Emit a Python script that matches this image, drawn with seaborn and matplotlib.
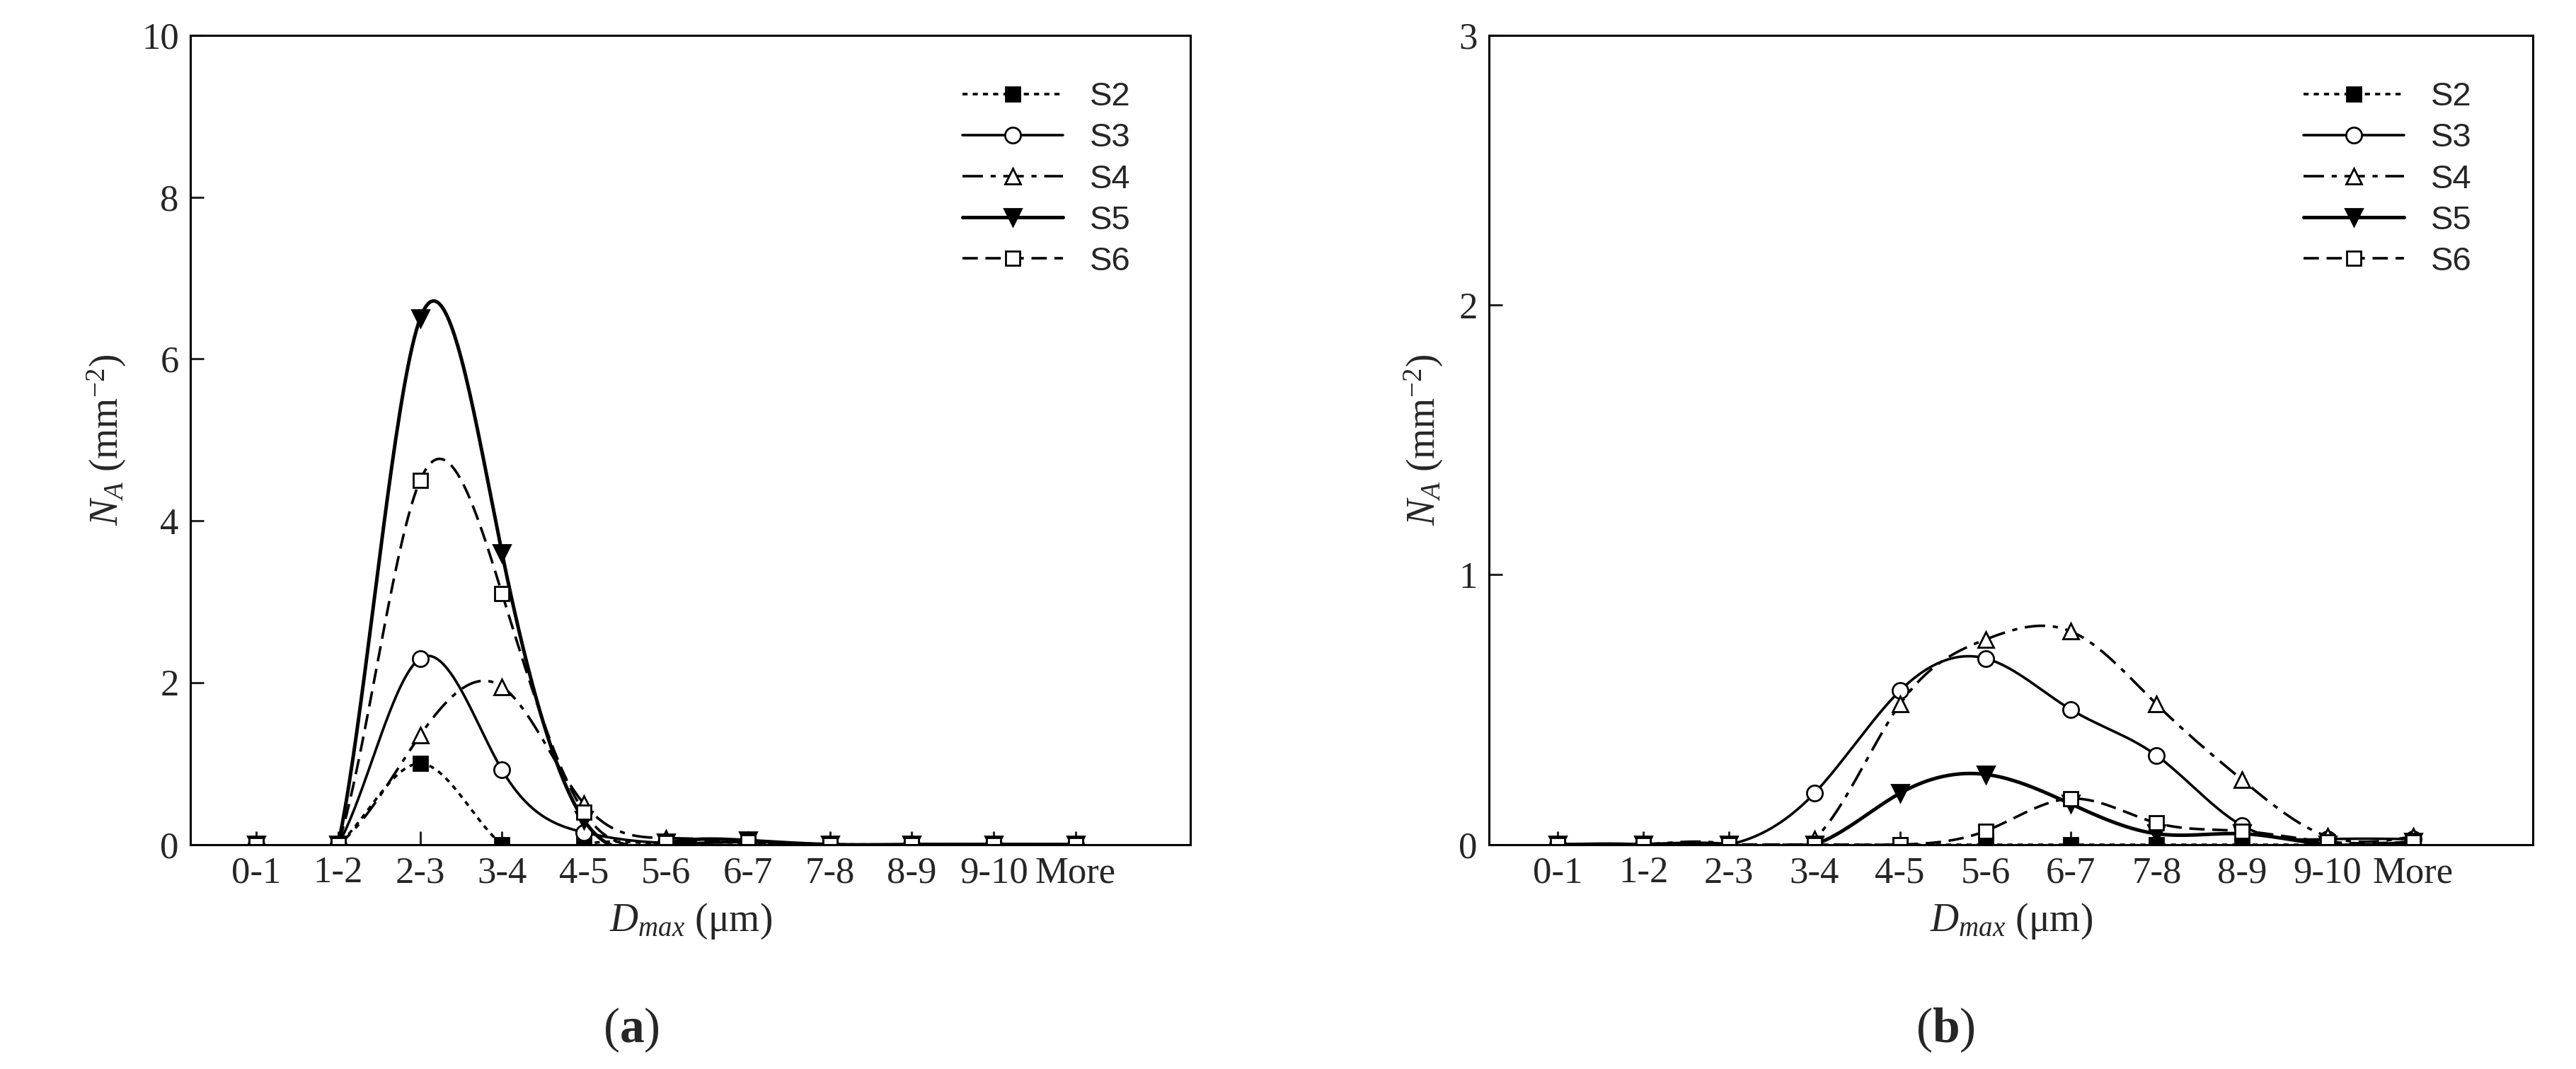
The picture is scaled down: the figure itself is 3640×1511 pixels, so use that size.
import numpy as np
import matplotlib
matplotlib.use("Agg")
import matplotlib.pyplot as plt
import seaborn as sns

sns.set_style("white")
plt.rcParams['font.family'] = ['Liberation Serif', 'DejaVu Serif']
plt.rcParams['mathtext.fontset'] = 'custom'
plt.rcParams['mathtext.it'] = 'Liberation Serif:italic'
plt.rcParams['mathtext.rm'] = 'Liberation Serif'
plt.rcParams['mathtext.bf'] = 'Liberation Serif:bold'

categories = ["0-1", "1-2", "2-3", "3-4", "4-5", "5-6", "6-7", "7-8", "8-9", "9-10", "More"]
series = ["S2", "S3", "S4", "S5", "S6"]
a_S2 = [0, 0, 1.0, 0, 0, 0, 0, 0, 0, 0, 0]
a_S3 = [0, 0, 2.3, 0.92, 0.15, 0.02, 0.03, 0, 0, 0, 0]
a_S4 = [0, 0, 1.35, 1.95, 0.5, 0.08, 0.05, 0, 0, 0, 0]
a_S5 = [0, 0, 6.5, 3.6, 0.3, 0.02, 0.05, 0, 0, 0, 0]
a_S6 = [0, 0, 4.5, 3.1, 0.4, 0.02, 0.03, 0, 0, 0, 0]
b_S2 = [0, 0, 0, 0, 0, 0, 0, 0, 0, 0, 0]
b_S3 = [0, 0, 0, 0.19, 0.57, 0.69, 0.50, 0.33, 0.07, 0.02, 0.02]
b_S4 = [0, 0, 0, 0.02, 0.52, 0.76, 0.79, 0.52, 0.24, 0.03, 0.03]
b_S5 = [0, 0, 0, 0, 0.19, 0.26, 0.15, 0.04, 0.04, 0, 0.01]
b_S6 = [0, 0, 0, 0, 0, 0.05, 0.17, 0.08, 0.05, 0.01, 0.01]

styles = {"S2": dict(ls=(0, (2, 2)), lw=2.6, marker='s', mfc='black', ms=14),
          "S3": dict(ls='-', lw=2.6, marker='o', mfc='white', ms=16),
          "S4": dict(ls=(0, (8, 3, 2, 3)), lw=2.6, marker='^', mfc='white', ms=16),
          "S5": dict(ls='-', lw=3.6, marker='v', mfc='black', ms=17),
          "S6": dict(ls=(0, (6, 3)), lw=2.6, marker='s', mfc='white', ms=15)}

def spline(x, y, n=400):
    x = np.asarray(x, float); y = np.asarray(y, float)
    N = len(x); h = np.diff(x)
    A = np.zeros((N, N)); r = np.zeros(N)
    A[0, 0] = A[-1, -1] = 1
    for i in range(1, N - 1):
        A[i, i-1] = h[i-1]; A[i, i] = 2 * (h[i-1] + h[i]); A[i, i+1] = h[i]
        r[i] = 3 * ((y[i+1] - y[i]) / h[i] - (y[i] - y[i-1]) / h[i-1])
    c = np.linalg.solve(A, r)
    xs = np.linspace(x[0], x[-1], n); ys = np.empty(n)
    for k, xv in enumerate(xs):
        i = min(np.searchsorted(x, xv, side='right') - 1, N - 2)
        b = (y[i+1] - y[i]) / h[i] - h[i] * (2 * c[i] + c[i+1]) / 3
        d = (c[i+1] - c[i]) / (3 * h[i]); t = xv - x[i]
        ys[k] = y[i] + b * t + c[i] * t**2 + d * t**3
    return xs, ys

fig = plt.figure(figsize=(36.41, 15.11), dpi=100)
ax1 = fig.add_axes([0.074, 0.21, 0.388, 0.757])
ax2 = fig.add_axes([0.578, 0.21, 0.405, 0.757])
x = np.arange(len(categories))

def draw(ax, data, ymax, yticks):
    for name, vals in zip(series, data):
        st = styles[name]
        xs, ys = spline(x, vals)
        sns.lineplot(x=xs, y=ys, ax=ax, color='black', lw=st['lw'], linestyle=st['ls'])
        sns.lineplot(x=x, y=vals, ax=ax, color='black', lw=0, marker=st['marker'],
                     markerfacecolor=st['mfc'], markeredgecolor='black', markeredgewidth=2,
                     markersize=st['ms'])
    handles = [plt.Line2D([], [], color='black', lw=styles[n]['lw'], linestyle=styles[n]['ls'],
                          marker=styles[n]['marker'], markerfacecolor=styles[n]['mfc'],
                          markeredgecolor='black', markersize=styles[n]['ms'], markeredgewidth=2)
               for n in series]
    ax.legend(handles, series, loc='upper right', bbox_to_anchor=(0.97, 0.98), frameon=False,
              prop={'family': 'Liberation Sans', 'size': 34}, handlelength=3.0, labelspacing=0.3)
    ax.set_xlim(-0.8, 11.4)
    ax.set_ylim(0, ymax)
    ax.set_yticks(yticks)
    ax.set_xticks(x)
    ax.set_xticklabels(categories)
    ax.tick_params(direction='in', length=14, width=2.2, labelsize=38, pad=12,
                   bottom=True, left=True, top=False, right=False)
    for s in ax.spines.values():
        s.set_linewidth(2.2); s.set_color('black')
    ax.set_xlabel(r'$D_{max}$ (μm)', fontsize=40, labelpad=12)
    ax.set_ylabel(r'$N_A$ (mm$^{\mathregular{-2}}$)', fontsize=40, labelpad=14)

draw(ax1, [a_S2, a_S3, a_S4, a_S5, a_S6], 10, [0, 2, 4, 6, 8, 10])
draw(ax2, [b_S2, b_S3, b_S4, b_S5, b_S6], 3, [0, 1, 2, 3])
fig.text(0.245, 0.025, r'($\mathbf{a}$)', fontsize=50, ha='center')
fig.text(0.755, 0.025, r'($\mathbf{b}$)', fontsize=50, ha='center')
fig.savefig('out.png', dpi=100)
